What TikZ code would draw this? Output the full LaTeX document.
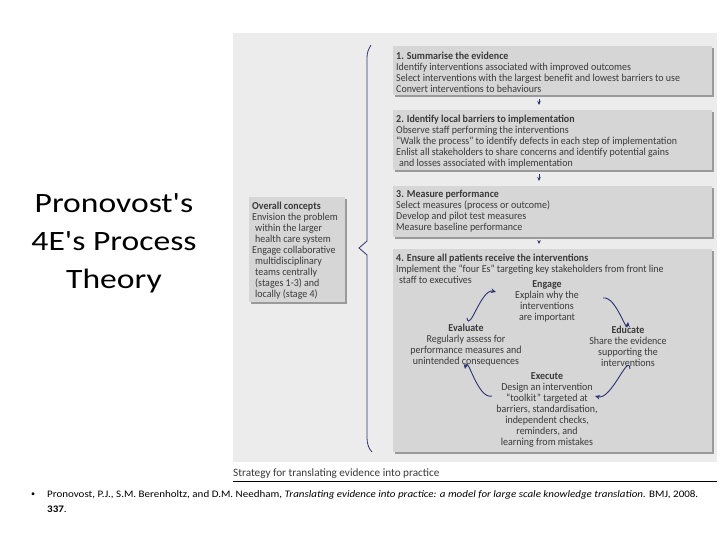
\documentclass[tikz,border=0pt]{standalone}
\usepackage{fontspec}
\setmainfont{Carlito}
\newfontfamily\condf[FakeStretch=0.94]{Carlito}
\newfontfamily\capf[FakeStretch=1.0]{Carlito}
\newfontfamily\reff[FakeStretch=1.1]{Carlito}
\newfontfamily\titlef[Ligatures=TeXOff,FakeStretch=1.2]{Carlito}
\usetikzlibrary{arrows.meta,shadows}
\definecolor{panel}{HTML}{ECECEC}
\definecolor{boxgray}{HTML}{D6D6D6}
\definecolor{shadowgray}{HTML}{9A9A9A}
\definecolor{navy}{HTML}{2E3170}
\definecolor{txt}{HTML}{3A3A3A}
\begin{document}
\begin{tikzpicture}[x=1pt,y=-1pt,
  box/.style={fill=boxgray, draw=none, anchor=north west, inner sep=0pt,
    drop shadow={shadow xshift=1.5pt, shadow yshift=-1.5pt, fill=shadowgray, opacity=1}},
  btxt/.style={anchor=north west, inner sep=0pt, align=left, text=txt,
    font=\condf\fontsize{10.6}{11}\selectfont},
  ctxt/.style={align=center, inner sep=0pt, text=txt,
    font=\condf\fontsize{10.6}{11}\selectfont},
  flowarr/.style={navy, line width=0.8pt, -{Stealth[length=4pt,width=3.5pt]}},
  cyc/.style={navy, line width=0.9pt, -{Stealth[length=5pt,width=4.5pt]}}]
\useasboundingbox (0,0) rectangle (720,540);
\fill[white] (0,0) rectangle (720,540);
% title
\node[font=\titlef\fontsize{28}{38}\selectfont, align=center, inner sep=0pt] (title) at (114,243) {Pronovost's\\4E's Process\\Theory};
% panel
\fill[panel] (233,33) rectangle (717,462);
% boxes
\node[box, minimum width=319pt, minimum height=49pt] (b1) at (393,46) {};
\node[box, minimum width=319pt, minimum height=60pt] (b2) at (393,110) {};
\node[box, minimum width=319pt, minimum height=51pt] (b3) at (393,186) {};
\node[box, minimum width=319pt, minimum height=203pt] (b4) at (393,249) {};
\node[box, minimum width=96pt, minimum height=105pt] (ov) at (249,197) {};
% box texts
\node[btxt] (t1) at (396,51.5) {\textbf{1. Summarise the evidence}\\
Identify interventions associated with improved outcomes\\
Select interventions with the largest benefit and lowest barriers to use\\
Convert interventions to behaviours};
\node[btxt] (t2) at (396,114.5) {\textbf{2. Identify local barriers to implementation}\\
Observe staff performing the interventions\\
“Walk the process” to identify defects in each step of implementation\\
Enlist all stakeholders to share concerns and identify potential gains\\
\hspace*{3pt}and losses associated with implementation};
\node[btxt] (t3) at (396,189.5) {\textbf{3. Measure performance}\\
Select measures (process or outcome)\\
Develop and pilot test measures\\
Measure baseline performance};
\node[btxt] (t4) at (396,253.5) {\textbf{4. Ensure all patients receive the interventions}\\
Implement the “four Es” targeting key stakeholders from front line\\
\hspace*{3pt}staff to executives};
\node[btxt] (tov) at (252,201.5) {\textbf{Overall concepts}\\
Envision the problem\\
\hspace*{3pt}within the larger\\
\hspace*{3pt}health care system\\
Engage collaborative\\
\hspace*{3pt}multidisciplinary\\
\hspace*{3pt}teams centrally\\
\hspace*{3pt}(stages 1-3) and\\
\hspace*{3pt}locally (stage 4)};
% flow arrows
\coordinate (ax) at (539,0);
\draw[flowarr, shorten <=4pt, shorten >=5pt] (b1.south -| ax) -- (b2.north -| ax);
\draw[flowarr, shorten <=4pt, shorten >=5pt] (b2.south -| ax) -- (b3.north -| ax);
\draw[flowarr, shorten <=4pt, shorten >=5pt] (b3.south -| ax) -- (b4.north -| ax);
% brace
\draw[navy, line width=0.8pt] (371,45) .. controls (368,50) and (367,53) .. (367,58)
  -- (367,241) -- (359,248) -- (367,255) -- (367,438)
  .. controls (367,444) and (369,449) .. (372,452);
% cycle
\node[ctxt] (engage) at (547,301) {\textbf{Engage}\\Explain why the\\interventions\\are important};
\node[ctxt] (educate) at (628,346) {\textbf{Educate}\\Share the evidence\\supporting the\\interventions};
\node[ctxt] (evaluate) at (466,345) {\textbf{Evaluate}\\Regularly assess for\\performance measures and\\unintended consequences};
\node[ctxt] (execute) at (547,410) {\textbf{Execute}\\Design an intervention\\“toolkit” targeted at\\barriers, standardisation,\\independent checks,\\reminders, and\\learning from mistakes};
\coordinate (c1s) at (467,318); \coordinate (c1e) at (496,292);
\coordinate (c2s) at (603,298); \coordinate (c2e) at (628,322);
\coordinate (c3s) at (630,369); \coordinate (c3e) at (595,396);
\coordinate (c4s) at (492,396); \coordinate (c4e) at (465,369);
\draw[cyc] (c1s) to[out=-80,in=165] (c1e);
\draw[cyc] (c2s) to[out=10,in=-95] (c2e);
\draw[cyc] (c3s) to[out=95,in=-15] (c3e);
\draw[cyc] (c4s) to[out=195,in=80] (c4e);
% caption
\node[anchor=west, inner sep=0pt, text=txt, font=\capf\fontsize{11.2}{12}\selectfont] (cap) at (233,474) {Strategy for translating evidence into practice};
\coordinate (l1) at (233,481); \coordinate (l2) at (717,481);
\draw[line width=0.8pt] (l1) -- (l2);
% reference
\node[anchor=center, inner sep=0pt, font=\fontsize{8}{9}\selectfont] (bul) at (33,495) {•};
\node[anchor=west, inner sep=0pt, font=\reff\fontsize{10}{12}\selectfont] (ref1) at (47,495) {Pronovost, P.J., S.M. Berenholtz, and D.M. Needham, \textit{Translating evidence into practice: a model for large scale knowledge translation.} BMJ, 2008.};
\node[anchor=west, inner sep=0pt, font=\reff\fontsize{10}{12}\selectfont] (ref2) at (47,509) {\textbf{337}.};
\end{tikzpicture}
\end{document}
